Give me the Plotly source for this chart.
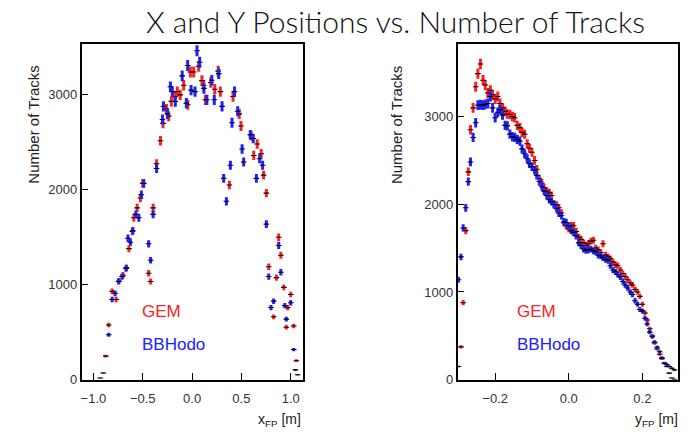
import numpy as np
import plotly.graph_objects as go
from plotly.subplots import make_subplots

# ---------------- Left panel: x_FP ----------------
gem_x_pos = [-0.90, -0.875, -0.845, -0.81, -0.77, -0.74, -0.70, -0.665, -0.64, -0.605,
             -0.59, -0.557, -0.524, -0.50, -0.44, -0.42, -0.395, -0.36, -0.32, -0.295,
             -0.26, -0.237, -0.21, -0.175, -0.15, -0.12, -0.085, -0.044, -0.017, 0.016,
             0.067, 0.10, 0.118, 0.135, 0.19, 0.23, 0.265, 0.287, 0.378, 0.415,
             0.478, 0.496, 0.60, 0.625, 0.66, 0.70, 0.725, 0.753, 0.777, 0.827,
             0.855, 0.878, 0.90, 0.93, 0.955, 0.969, 1.0, 1.03, 1.057, 1.07]
gem_x_cnt = [70, 248, 576, 930, 845, 1040, 1100, 1180, 1380, 1560,
             1706, 1810, 1913, 2068, 1121, 1034, 1810, 2275, 2517, 2700,
             2850, 2776, 2931, 2980, 3034, 3000, 3102, 2896, 3241, 3241,
             3300, 3150, 3102, 2948, 3130, 3060, 3250, 3034, 2051, 2983,
             2800, 2672, 2569, 2362, 2482, 2380, 2155, 1965, 1189, 662,
             1075, 1500, 1310, 972, 552, 759, 897, 566, 200, 52]

hodo_x_pos = [-0.93, -0.845, -0.81, -0.78, -0.745, -0.71, -0.67, -0.65, -0.625, -0.60,
              -0.57, -0.54, -0.514, -0.49, -0.44, -0.42, -0.395, -0.36, -0.30, -0.29,
              -0.25, -0.22, -0.20, -0.17, -0.10, -0.058, -0.045, -0.01, 0.03, 0.05,
              0.077, 0.12, 0.15, 0.20, 0.225, 0.27, 0.304, 0.32, 0.348, 0.388,
              0.405, 0.43, 0.462, 0.507, 0.523, 0.59, 0.62, 0.652, 0.685, 0.715,
              0.753, 0.777, 0.80, 0.827, 0.878, 0.90, 0.94, 0.955, 1.0, 1.03, 1.047]
hodo_x_cnt = [17, 473, 845, 910, 1034, 1086, 1172, 1490, 1448, 1569,
              1741, 1706, 1948, 2068, 1431, 1258, 1741, 2224, 2740, 2879,
              2800, 3085, 3034, 2930, 3200, 2913, 3309, 3050, 3034, 3465,
              3344, 3068, 2948, 3154, 2948, 3224, 2879, 2120, 1879, 2258,
              2706, 3034, 2827, 2430, 2293, 2580, 2540, 2120, 2327, 2258,
              1638, 1086, 760, 827, 1414, 1131, 780, 638, 810, 317, 103]

# ---------------- Right panel: y_FP ----------------
y_bins = [-0.300, -0.293, -0.287, -0.280, -0.273, -0.267, -0.260, -0.253, -0.247, -0.240,
          -0.233, -0.227, -0.220, -0.213, -0.207, -0.200, -0.193, -0.187, -0.180, -0.173,
          -0.167, -0.160, -0.153, -0.147, -0.140, -0.133, -0.127, -0.120, -0.113, -0.107,
          -0.100, -0.093, -0.087, -0.080, -0.073, -0.067, -0.060, -0.053, -0.047, -0.040,
          -0.033, -0.027, -0.020, -0.013, -0.007, 0.000, 0.007, 0.013, 0.020, 0.027,
          0.033, 0.040, 0.047, 0.053, 0.060, 0.067, 0.073, 0.080, 0.087, 0.093,
          0.100, 0.107, 0.113, 0.120, 0.127, 0.133, 0.140, 0.147, 0.153, 0.160,
          0.167, 0.173, 0.180, 0.187, 0.193, 0.200, 0.207, 0.213, 0.220, 0.227,
          0.233, 0.240, 0.247, 0.253, 0.260, 0.267, 0.273, 0.280, 0.287]
gem_y_cnt = [150, 374, 878, 1700, 2370, 2850, 3100, 3340, 3490, 3600,
             3415, 3360, 3270, 3300, 3250, 3200, 3230, 3150, 3100, 3060,
             3030, 3024, 3000, 2987, 2900, 2874, 2820, 2800, 2690, 2640,
             2594, 2500, 2400, 2290, 2240, 2184, 2150, 2130, 2100, 2000,
             1990, 1960, 1900, 1790, 1755, 1720, 1760, 1755, 1690, 1624,
             1600, 1560, 1530, 1550, 1580, 1590, 1500, 1480, 1450, 1550,
             1420, 1400, 1380, 1340, 1310, 1300, 1250, 1210, 1176, 1140,
             1102, 1080, 1030, 1000, 950, 860, 760, 680, 580, 500,
             420, 350, 290, 240, 190, 150, 75, 19, 5]
hodo_y_cnt = [1139, 1400, 1730, 1960, 2259, 2483, 2762, 2930, 3130, 3135,
              3130, 3140, 3150, 3230, 3100, 2987, 3050, 3080, 3020, 2900,
              2894, 2800, 2770, 2762, 2740, 2720, 2632, 2576, 2520, 2464,
              2430, 2389, 2330, 2260, 2200, 2150, 2100, 2053, 2030, 1998,
              1950, 1900, 1870, 1800, 1792, 1750, 1700, 1680, 1640, 1560,
              1530, 1490, 1475, 1480, 1490, 1470, 1460, 1419, 1410, 1390,
              1370, 1360, 1300, 1250, 1230, 1200, 1170, 1120, 1080, 1046,
              1000, 971, 900, 860, 800, 784, 700, 635, 542, 490,
              430, 370, 318, 250, 187, 170, 150, 130, 112]

W, H = 691, 440
RED = "#ff2020"
BLUE = "#2020ff"

fig = make_subplots(rows=1, cols=2)


def add_series(x, y, color, col):
    err = np.sqrt(np.array(y, dtype=float))
    fig.add_trace(go.Scatter(
        x=x, y=y, mode="markers", showlegend=False,
        marker=dict(symbol="line-ew", size=4, color="black",
                    line=dict(color="black", width=1.1)),
        error_y=dict(type="data", array=err, color=color, thickness=3, width=0),
    ), row=1, col=col)


add_series(gem_x_pos, gem_x_cnt, RED, 1)
add_series(hodo_x_pos, hodo_x_cnt, BLUE, 1)
add_series(y_bins, gem_y_cnt, RED, 2)
add_series(y_bins, hodo_y_cnt, BLUE, 2)

y_top = 1 - 45 / H
y_bot = 1 - 386.7 / H

axis_common = dict(showgrid=False, zeroline=False, showline=True, linecolor="black",
                   linewidth=1.5, mirror=True, ticks="inside", ticklen=7,
                   tickwidth=1.2, tickcolor="black",
                   tickfont=dict(family="Liberation Sans", size=13, color="#333"))

fig.update_xaxes(domain=[80.7 / W, 302 / W], range=[-1.12, 1.12],
                 tickvals=[-1.0, -0.5, 0.0, 0.5, 1.0], tickformat=".1f",
                 ticklabelstandoff=6, row=1, col=1, **axis_common)
fig.update_yaxes(domain=[y_bot, y_top], range=[0, 3534],
                 tickvals=[0, 1000, 2000, 3000], row=1, col=1, **axis_common)
fig.update_xaxes(domain=[457.3 / W, 677.7 / W], range=[-0.302, 0.296],
                 tickvals=[-0.2, 0.0, 0.2], tickformat=".1f",
                 ticklabelstandoff=6, row=1, col=2, **axis_common)
fig.update_yaxes(domain=[y_bot, y_top], range=[0, 3826],
                 tickvals=[0, 1000, 2000, 3000], row=1, col=2, **axis_common)


def px(x, y):
    return x / W, 1 - y / H


ann = []
# main title
tx, ty = px(395, 21)
ann.append(dict(x=tx, y=ty, text="X and Y Positions vs. Number of Tracks",
                font=dict(family="Lato", size=30, color="#111", weight=300),
                xanchor="center", yanchor="middle"))
# y titles
for cx in (33, 396):
    ax_, ay_ = px(cx, 127)
    ann.append(dict(x=ax_, y=ay_, text="Number of Tracks", textangle=-90,
                    font=dict(family="Liberation Sans", size=15, color="#222"),
                    xanchor="center", yanchor="middle"))
# x titles
for rx, lab in ((302, "x<sub>FP</sub> [m]"), (680, "y<sub>FP</sub> [m]")):
    ax_, ay_ = px(rx, 428)
    ann.append(dict(x=ax_, y=ay_, text=lab,
                    font=dict(family="Liberation Sans", size=14, color="#222"),
                    xanchor="right", yanchor="middle"))
# legends-as-text
for lx in (139, 515):
    gx, gy = px(lx, 317)
    ann.append(dict(x=gx, y=gy, text="GEM", font=dict(family="Liberation Sans", size=17, color=RED),
                    xanchor="left", yanchor="middle"))
    bx, by = px(lx, 351)
    ann.append(dict(x=bx, y=by, text="BBHodo", font=dict(family="Liberation Sans", size=17, color=BLUE),
                    xanchor="left", yanchor="middle"))

for a in ann:
    a.update(xref="paper", yref="paper", showarrow=False)

fig.update_layout(width=W, height=H, margin=dict(l=0, r=0, t=0, b=0),
                  plot_bgcolor="white", paper_bgcolor="white",
                  annotations=ann, showlegend=False)

fig.write_html("out.html")
